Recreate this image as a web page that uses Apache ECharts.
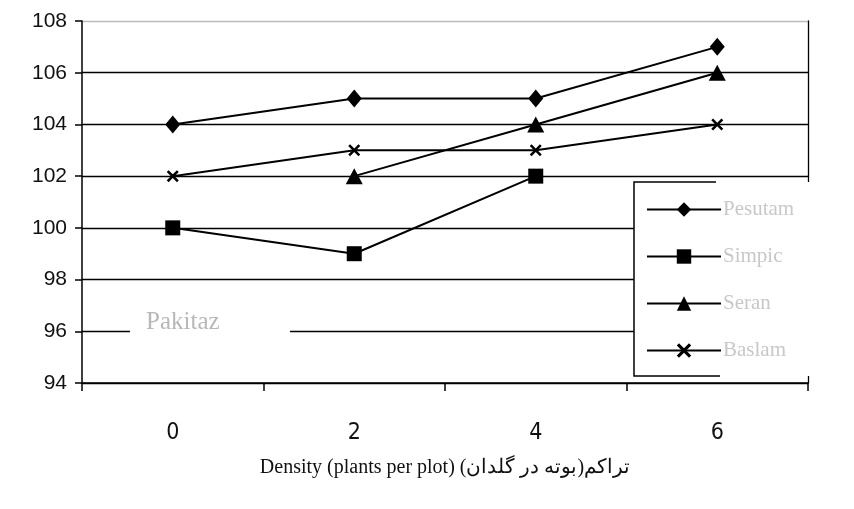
<!DOCTYPE html>
<html>
<head>
<meta charset="utf-8">
<script src="https://cdn.jsdelivr.net/npm/echarts@6/dist/echarts.min.js"></script>
<style>html,body{margin:0;padding:0;background:#fff}#c{width:854px;height:509px}</style>
</head>
<body>
<div id="c"></div>
<script>
const categories = ['0', '2', '4', '6'];
const seriesNames = ['Pesutam', 'Simpic', 'Seran', 'Baslam'];
const diamondValues = [104, 105, 105, 107];
const squareValues = [100, 99, 102, null];
const triangleValues = [null, 102, 104, 106];
const crossValues = [102, 103, 103, 104];
const yMin = 94, yMax = 108, yStep = 2;
const xTitle = 'Density (plants per plot) تراکم(بوته در گلدان)';
const noteText = 'Pakitaz';

const crossPath = 'path://M0,1.5 L1.5,0 L5,3.5 L8.5,0 L10,1.5 L6.5,5 L10,8.5 L8.5,10 L5,6.5 L1.5,10 L0,8.5 L3.5,5 Z';
const symbols = ['diamond', 'rect', 'triangle', crossPath];
const sizes = [[15, 18], 15, [17, 16], 12];
const values = [diamondValues, squareValues, triangleValues, crossValues];

const chart = echarts.init(document.getElementById('c'));
chart.setOption({
  animation: false,
  backgroundColor: '#fff',
  grid: { left: 82, right: 46, top: 21, bottom: 126 },
  xAxis: {
    type: 'category',
    data: categories,
    boundaryGap: true,
    axisLine: { lineStyle: { color: '#000', width: 1.5 } },
    axisTick: { show: true, length: 8, lineStyle: { color: '#000', width: 1.5 } },
    axisLabel: { color: '#111', fontSize: 23, fontFamily: 'DejaVu Sans Condensed, DejaVu Sans', margin: 39 },
    name: xTitle,
    nameLocation: 'middle',
    nameGap: 75,
    nameTextStyle: { color: '#111', fontSize: 20, fontFamily: 'Liberation Serif, DejaVu Serif' }
  },
  yAxis: [{
    type: 'value',
    min: yMin, max: yMax, interval: yStep,
    axisLine: { show: true, lineStyle: { color: '#000', width: 1.5 } },
    axisTick: { show: true, length: 7, lineStyle: { color: '#000', width: 1.5 } },
    axisLabel: { color: '#111', fontSize: 21, fontFamily: 'Liberation Sans, Arial', margin: 15 },
    splitLine: { show: true, lineStyle: { color: ['#000', '#000', '#000', '#000', '#000', '#000', '#000', '#bbb'], width: 1.3 } }
  }, {
    type: 'value',
    position: 'right',
    min: yMin, max: yMax, interval: yStep,
    axisLine: { show: true, lineStyle: { color: '#000', width: 1.3 } },
    axisTick: { show: false },
    axisLabel: { show: false },
    splitLine: { show: false }
  }],
  legend: {
    orient: 'vertical',
    left: 641,
    top: 194,
    itemWidth: 74,
    itemHeight: 18,
    itemGap: 26,
    z: 10,
    textStyle: { color: '#c8c8c8', fontSize: 21, fontFamily: 'Liberation Serif, DejaVu Serif', padding: [0, 0, 0, -3] },
    data: seriesNames
  },
  graphic: [
    { type: 'rect', z: 5, shape: { x: 634, y: 182, width: 220, height: 194 }, style: { fill: '#fff' } },
    { type: 'polyline', z: 6, shape: { points: [[716, 182], [634, 182], [634, 376], [720, 376]] }, style: { stroke: '#000', lineWidth: 1.5, fill: null } },
    { type: 'rect', z: 5, shape: { x: 130, y: 322, width: 160, height: 18 }, style: { fill: '#fff' } },
    { type: 'text', z: 6, x: 146, y: 310, style: { text: noteText, fill: '#b8b8b8', font: '25px "Liberation Serif", serif' } }
  ],
  series: values.map((v, i) => ({
    name: seriesNames[i],
    type: 'line',
    data: v,
    symbol: symbols[i],
    symbolSize: sizes[i],
    showSymbol: true,
    connectNulls: false,
    lineStyle: { color: '#000', width: 2 },
    itemStyle: { color: '#000' },
    z: 3
  }))
});
</script>
</body>
</html>
